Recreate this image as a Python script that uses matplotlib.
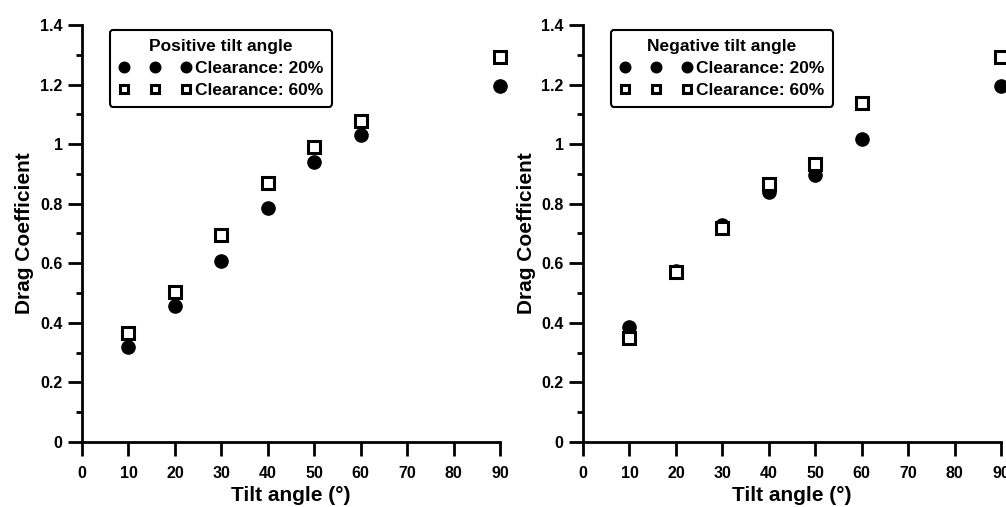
import matplotlib
matplotlib.use("Agg")
import matplotlib.pyplot as plt
from matplotlib.ticker import MultipleLocator

plt.rcParams['font.family'] = ['Liberation Sans', 'DejaVu Sans']
plt.rcParams['font.weight'] = 'bold'

angle = [10, 20, 30, 40, 50, 60, 90]

pos_c20 = [0.318, 0.457, 0.608, 0.784, 0.941, 1.031, 1.195]
pos_c60 = [0.365, 0.502, 0.695, 0.870, 0.991, 1.079, 1.293]

neg_c20 = [0.385, 0.575, 0.730, 0.840, 0.896, 1.016, 1.195]
neg_c60 = [0.348, 0.572, 0.718, 0.865, 0.932, 1.137, 1.293]

titles = ['Positive tilt angle', 'Negative tilt angle']
panels = [(pos_c20, pos_c60), (neg_c20, neg_c60)]
lefts = [82 / 1006, 583 / 1006]

fig = plt.figure(figsize=(10.06, 5.07), dpi=100)

for left, title, (c20, c60) in zip(lefts, titles, panels):
    ax = fig.add_axes([left, 65 / 507, 418 / 1006, 417 / 507])
    ax.plot(angle, c20, 'o', color='black', markersize=9.5, clip_on=False,
            label='Clearance: 20%', zorder=3)
    ax.plot(angle, c60, 's', color='black', markerfacecolor='white',
            markeredgewidth=2.2, markersize=8, clip_on=False,
            label='Clearance: 60%', zorder=4)

    ax.set_xlim(0, 90)
    ax.set_ylim(0, 1.4)
    ax.xaxis.set_major_locator(MultipleLocator(10))
    ax.yaxis.set_minor_locator(MultipleLocator(0.1))
    ax.set_yticks([0, 0.2, 0.4, 0.6, 0.8, 1, 1.2, 1.4])
    ax.set_yticklabels(['0', '0.2', '0.4', '0.6', '0.8', '1', '1.2', '1.4'])

    ax.spines['top'].set_visible(False)
    ax.spines['right'].set_visible(False)
    ax.spines['left'].set_linewidth(2)
    ax.spines['bottom'].set_linewidth(2)
    ax.tick_params(which='major', direction='out', length=10, width=2,
                   labelsize=11.5)
    ax.tick_params(axis='x', pad=7)
    ax.tick_params(axis='y', pad=4)
    ax.tick_params(which='minor', direction='out', length=4.5, width=2)
    for lab in ax.get_xticklabels() + ax.get_yticklabels():
        lab.set_fontweight('bold')

    ax.set_xlabel('Tilt angle (°)', fontsize=15, fontweight='bold', labelpad=4)
    ax.set_ylabel('Drag Coefficient', fontsize=15, fontweight='bold', labelpad=4)

    leg = ax.legend(loc='upper left', bbox_to_anchor=(0.067, 0.988),
                    numpoints=3, handlelength=4.2, handletextpad=0.2,
                    borderpad=0.5, labelspacing=0.4, borderaxespad=0,
                    markerscale=0.8,
                    title=title, fancybox=True, framealpha=1,
                    prop={'size': 12.5, 'weight': 'bold'},
                    title_fontproperties={'size': 12.5, 'weight': 'bold'})
    leg.get_frame().set_edgecolor('black')
    leg.get_frame().set_linewidth(1.5)

fig.savefig('out.png', dpi=100)
